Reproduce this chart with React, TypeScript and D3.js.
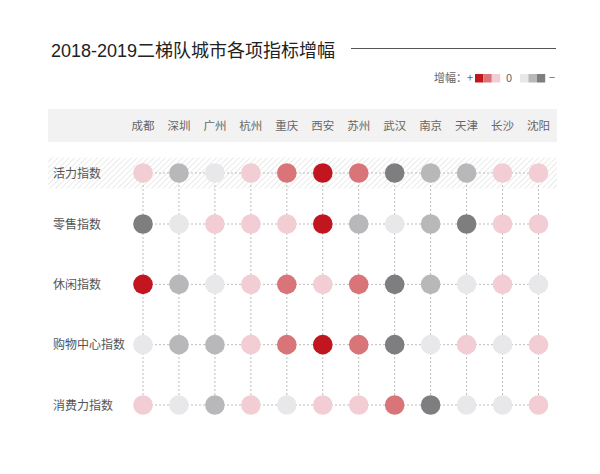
import React from "react";
import * as d3 from "d3";

const cities = ["成都", "深圳", "广州", "杭州", "重庆", "西安", "苏州", "武汉", "南京", "天津", "长沙", "沈阳"];
const indices = ["活力指数", "零售指数", "休闲指数", "购物中心指数", "消费力指数"];

// growth level: +3 strong rise ... -3 strong fall
const vitality = [1, -2, -1, 1, 2, 3, 2, -3, -2, -2, 1, 1];
const retail = [-3, -1, 1, 1, 1, 3, -2, -1, -2, -3, 1, 1];
const leisure = [3, -2, -1, 1, 2, 1, 2, -3, -2, -1, 1, -1];
const mall = [-1, -2, -2, 1, 2, 3, 2, -3, -1, 1, -1, 1];
const spending = [1, -1, -2, 1, -1, 1, 1, 2, -3, -1, -1, 1];

const rows = [vitality, retail, leisure, mall, spending];

const levels = [3, 2, 1, -1, -2, -3];
const levelColors = ["#c1161f", "#d97578", "#f2cdd4", "#e8e8ea", "#b8b8ba", "#7e7e80"];

const W = 600;
const H = 474;
const left = 48;
const right = 557;
const r = 9.8;

export default function App() {
  const x = d3.scalePoint<string>().domain(cities).range([143, 538.5]);
  // highlighted first row sits closer to the next one
  const y = d3.scaleLinear().domain([0, 1, 4]).range([173, 224, 405]);
  const color = d3.scaleOrdinal<number, string>().domain(levels).range(levelColors);

  const x0 = x(cities[0])!;
  const x1 = x(cities[cities.length - 1])!;

  const font = "'Noto Sans CJK SC', 'Noto Sans', sans-serif";

  return (
    <svg
      width={W}
      height={H}
      style={{ position: "absolute", left: 0, top: 0, background: "#fff" }}
      fontFamily={font}
    >
      <defs>
        <pattern id="hatch" width={4} height={4} patternUnits="userSpaceOnUse" patternTransform="rotate(45)">
          <rect width={4} height={4} fill="#fff" />
          <line x1={0} y1={0} x2={0} y2={4} stroke="#e2e2e2" strokeWidth={1.4} />
        </pattern>
      </defs>

      {/* title */}
      <text x={51} y={57} fontSize={18} fill="#222" fontFamily="'Liberation Sans', 'Noto Sans CJK SC', sans-serif">
        2018-2019二梯队城市各项指标增幅
      </text>
      <line x1={351} x2={556} y1={48.5} y2={48.5} stroke="#555" strokeWidth={1} />

      {/* legend */}
      <g fontSize={11} fill="#666">
        <text x={473} y={82} textAnchor="end">增幅：+</text>
        {levels.slice(0, 3).map((l, i) => (
          <rect key={l} x={475 + i * 8.4} y={74} width={8.4} height={8.5} fill={color(l)} />
        ))}
        <text x={509} y={82} textAnchor="middle">0</text>
        {levels.slice(3).map((l, i) => (
          <rect key={l} x={520 + i * 8.4} y={74} width={8.4} height={8.5} fill={color(l)} />
        ))}
        <text x={552} y={82} textAnchor="middle">−</text>
      </g>

      {/* header band */}
      <rect x={left} y={109} width={right - left} height={33} fill="#f2f2f2" />
      {cities.map((c) => (
        <text key={c} x={x(c)} y={130} textAnchor="middle" fontSize={11.5} fill="#666">
          {c}
        </text>
      ))}

      {/* highlighted row */}
      <rect x={left} y={y(0) - 15.5} width={right - left} height={31} fill="url(#hatch)" />

      {/* grid */}
      <g stroke="#bdbdbd" strokeWidth={1} strokeDasharray="2,2">
        {cities.map((c) => (
          <line key={c} x1={x(c)} x2={x(c)} y1={y(0)} y2={y(indices.length - 1)} />
        ))}
        {indices.map((n, i) => (
          <line key={n} x1={x0} x2={x1} y1={y(i)} y2={y(i)} />
        ))}
      </g>

      {/* row labels and circles */}
      {indices.map((n, i) => (
        <g key={n}>
          <text x={53} y={y(i) + 4.5} fontSize={12} fill="#555">
            {n}
          </text>
          {rows[i].map((v, j) => (
            <circle key={j} cx={x(cities[j])} cy={y(i)} r={r} fill={color(v)} />
          ))}
        </g>
      ))}
    </svg>
  );
}
